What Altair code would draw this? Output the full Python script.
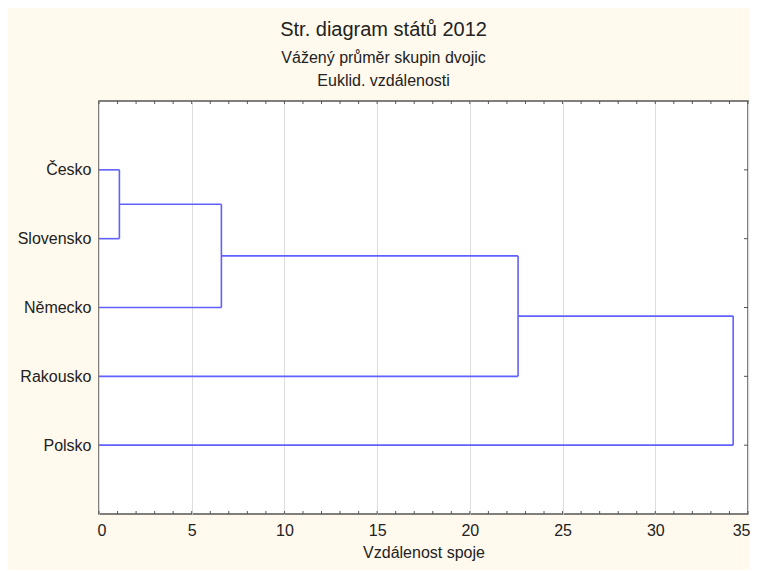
import altair as alt
import pandas as pd

# ---- data ----
countries = ["Česko", "Slovensko", "Německo", "Rakousko", "Polsko"]
# scipy-style merges: node ids 0..4 are leaves, 5.. are clusters
merge_pairs = [(0, 1), (5, 2), (6, 3), (7, 4)]
merge_heights = [1.1, 6.6, 22.6, 34.2]
x_tick_labels = [0, 5, 10, 15, 20, 25, 30, 35]
x_minor_ticks = list(range(0, 36))

# ---- build dendrogram segments ----
pos = {i: i + 1 for i in range(len(countries))}
hgt = {i: 0.0 for i in range(len(countries))}
segs = []
for k, ((a, b), h) in enumerate(zip(merge_pairs, merge_heights)):
    node = len(countries) + k
    segs.append({"x": hgt[a], "x2": h, "y": pos[a], "y2": pos[a]})
    segs.append({"x": hgt[b], "x2": h, "y": pos[b], "y2": pos[b]})
    segs.append({"x": h, "x2": h, "y": pos[a], "y2": pos[b]})
    pos[node] = (pos[a] + pos[b]) / 2
    hgt[node] = h
seg_df = pd.DataFrame(segs)
tick_df = pd.DataFrame({"x": x_minor_ticks})
cat_df = pd.DataFrame({"y": list(range(1, len(countries) + 1))})

W, H = 649, 413
FONT = "Liberation Sans"
TXT = "#222222"
xscale = alt.Scale(domain=[0, 35], nice=False, zero=False)
yscale = alt.Scale(domain=[0, 6], reverse=True, nice=False, zero=False)

label_expr = "[" + ",".join('"%s"' % c for c in [""] + countries) + "][datum.value]"

x_axis = alt.Axis(values=x_tick_labels, title="Vzdálenost spoje",
                  grid=True, gridColor="#DDDDDD", gridWidth=1,
                  ticks=False, domain=False, labelPadding=8,
                  labelFlush=True, labelFlushOffset=2, labelOverlap=False,
                  labelFontSize=16, labelFont=FONT, labelColor=TXT,
                  titleFontSize=16, titleFont=FONT, titleColor=TXT,
                  titleFontWeight="normal", titlePadding=6)
y_axis = alt.Axis(values=[1, 2, 3, 4, 5], labelExpr=label_expr,
                  grid=False, ticks=False, domain=False,
                  labelPadding=8, labelFontSize=16, labelFont=FONT,
                  labelColor=TXT, title=None)

lines = alt.Chart(seg_df).mark_rule(color="#6060FF", strokeWidth=1.6).encode(
    x=alt.X("x:Q", scale=xscale, axis=x_axis),
    x2="x2:Q",
    y=alt.Y("y:Q", scale=yscale, axis=y_axis),
    y2="y2:Q",
)

top_ticks = alt.Chart(tick_df).mark_rule(color="#555555", strokeWidth=1).encode(
    x=alt.X("x:Q", scale=xscale, axis=x_axis),
    y=alt.value(0), y2=alt.value(3),
)
bot_ticks = alt.Chart(tick_df).mark_rule(color="#555555", strokeWidth=1).encode(
    x=alt.X("x:Q", scale=xscale, axis=x_axis),
    y=alt.value(H), y2=alt.value(H - 3),
)
right_ticks = alt.Chart(cat_df).mark_rule(color="#555555", strokeWidth=1).encode(
    y=alt.Y("y:Q", scale=yscale, axis=y_axis),
    x=alt.value(W), x2=alt.value(W - 4),
)

chart = alt.layer(lines, top_ticks, bot_ticks, right_ticks).properties(
    width=W, height=H,
    title=alt.TitleParams(
        text="Str. diagram států 2012",
        subtitle=["Vážený průměr skupin dvojic", "Euklid. vzdálenosti"],
        font=FONT, fontSize=20, fontWeight="normal", color=TXT,
        subtitleFont=FONT, subtitleFontSize=16, subtitleColor=TXT,
        subtitlePadding=10, subtitleLineHeight=23,
        anchor="middle", frame="bounds", offset=12,
    ),
    background="#FFF9EE",
    padding={"left": 91, "top": 93, "right": 2, "bottom": 56},
    autosize=alt.AutoSizeParams(type="none"),
).configure_view(
    stroke="#555555", strokeWidth=1.5, fill="white"
)

chart.save("out.html", embed_options={"renderer": "svg", "actions": False})
